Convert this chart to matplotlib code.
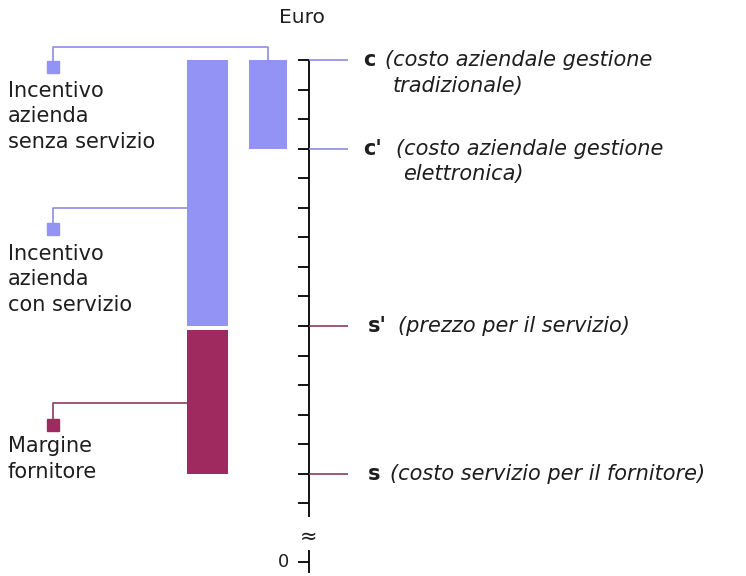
import matplotlib.pyplot as plt

# livelli in "tacche" sull'asse Euro (0 e' dopo la rottura dell'asse)
level_names = ["s", "s'", "c'", "c"]
level_values = [3, 8, 14, 17]
tick_values = list(range(2, 18))
zero_value = 0

label_rows = [
    ("c", "(costo aziendale gestione", "tradizionale)"),
    ("c'", "(costo aziendale gestione", "elettronica)"),
    ("s'", "(prezzo per il servizio)", None),
    ("s", "(costo servizio per il fornitore)", None),
]
left_labels = ["Incentivo\nazienda\nsenza servizio",
               "Incentivo\nazienda\ncon servizio",
               "Margine\nfornitore"]

lv = dict(zip(level_names, level_values))

BLUE = "#9393f6"
BLUE_LINE = "#8c8ce8"
MAROON = "#9e2a60"
MAROON_LINE = "#8a3d5e"
TXT = "#1e1e1e"

W, H = 746, 576
PX = 29.5          # pixel per tacca
Y0 = 562           # pixel della tacca 0
FS = 15


def py(p):
    # pixel verticale -> coordinata dati
    return (Y0 - p) / PX


fig = plt.figure(figsize=(W / 100, H / 100), dpi=100)
ax = fig.add_axes([0, 0, 1, 1])
ax.set_xlim(0, W)
ax.set_ylim(py(H), py(0))
ax.axis("off")

# barre
gap = 0.15
ax.bar(207.5, lv["s'"] - lv["s"] - gap, bottom=lv["s"], width=41, color=MAROON, align="center")
ax.bar(207.5, lv["c"] - lv["s'"], bottom=lv["s'"], width=41, color=BLUE, align="center")
ax.bar(268, lv["c"] - lv["c'"], bottom=lv["c'"], width=38, color=BLUE, align="center")

# asse
xa = 309
ax.vlines(xa, py(517), lv["c"], color="black", lw=1.3)
ax.hlines(tick_values, 298, xa, color="black", lw=1.3)
ax.vlines(xa, py(573), py(550), color="black", lw=1.3)
ax.hlines(zero_value, 298, xa, color="black", lw=1.3)
ax.text(289, zero_value, "0", ha="right", va="center", fontsize=13, color=TXT)
ax.text(xa, py(537), "≈", ha="center", va="center", fontsize=15, color=TXT)
ax.text(302, py(18), "Euro", ha="center", va="center", fontsize=14.5, color=TXT)

# linee di riferimento ed etichette a destra
line_cols = {"c": BLUE_LINE, "c'": BLUE_LINE, "s'": MAROON_LINE, "s": MAROON_LINE}
italic_x = {"c": 385, "c'": 396, "s'": 398, "s": 390}
second_x = {"c": 393, "c'": 403}
letter_x = {"c": 363, "c'": 363, "s'": 368, "s": 368}
for name, desc, desc2 in label_rows:
    y = lv[name]
    ax.hlines(y, xa, 348, color=line_cols[name], lw=1.2)
    ax.text(letter_x[name], y, name, ha="left", va="center", fontsize=FS,
            fontweight="bold", color=TXT)
    ax.text(italic_x[name], y, desc, ha="left", va="center", fontsize=FS,
            style="italic", color=TXT)
    if desc2:
        ax.text(second_x[name], y - 0.85, desc2, ha="left", va="center", fontsize=FS,
                style="italic", color=TXT)

# richiami a sinistra
mx = 53
# senza servizio -> barra destra
ax.plot([mx, mx, 268, 268], [py(67), py(47), py(47), lv["c"]], color=BLUE_LINE, lw=1.2)
# con servizio -> barra sinistra
ax.plot([mx, mx, 187], [py(229), py(208), py(208)], color=BLUE_LINE, lw=1.2)
# margine -> barra sinistra (parte bassa)
ax.plot([mx, mx, 187], [py(425), py(403), py(403)], color=MAROON_LINE, lw=1.2)
ax.plot(mx, py(67), marker="s", ms=9, color=BLUE, mec=BLUE)
ax.plot(mx, py(229), marker="s", ms=9, color=BLUE, mec=BLUE)
ax.plot(mx, py(425), marker="s", ms=9, color=MAROON, mec=MAROON)

# va="baseline" allinea l'ultima riga
for lab, base in zip(left_labels, [148, 311, 478]):
    ax.text(8, py(base), lab, ha="left", va="baseline", fontsize=FS,
            color=TXT, linespacing=1.35)

fig.savefig("out.png", dpi=100, facecolor="white")
